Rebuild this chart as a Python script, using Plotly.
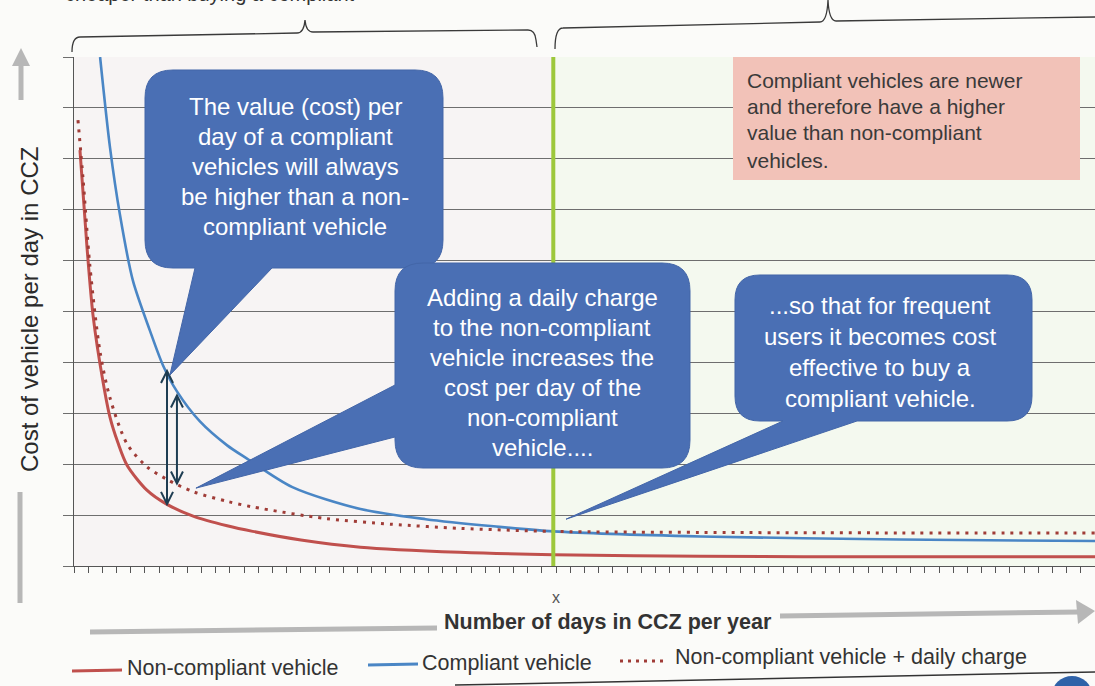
import plotly.graph_objects as go

# ---------------- data ----------------
days_noncompliant = [2.1, 4.6, 6.7, 10.2, 12.7, 15.5, 18.7, 25.7, 32.8, 42, 54, 63, 80, 101, 136, 169, 221, 291, 360]
cost_noncompliant = [8.17, 6.25, 4.93, 3.63, 2.92, 2.42, 1.98, 1.49, 1.21, 0.98, 0.79, 0.68, 0.51, 0.37, 0.27, 0.22, 0.19, 0.18, 0.18]

days_compliant = [9.2, 12.7, 16.2, 20.8, 26.8, 31.4, 36.3, 44.4, 54, 61, 77, 101, 124, 148, 169, 221, 291, 360]
cost_compliant = [10.0, 8.22, 6.90, 5.60, 4.62, 3.94, 3.43, 2.84, 2.37, 2.11, 1.55, 1.12, 0.92, 0.78, 0.68, 0.58, 0.52, 0.49]

days_charge = [1.4, 3.2, 5.6, 9.2, 12.7, 18.7, 25.7, 32.8, 42, 54, 63, 89, 112, 136, 169, 221, 291, 360]
cost_charge = [8.76, 7.60, 5.90, 4.20, 3.30, 2.40, 1.95, 1.70, 1.46, 1.27, 1.16, 0.93, 0.82, 0.74, 0.68, 0.66, 0.65, 0.65]

series_names = ["Non-compliant vehicle", "Compliant vehicle", "Non-compliant vehicle + daily charge"]

crossover_day = 169          # "x" marker (green line)
x_range = [0, 360]
y_range = [0, 10]

arrow_days = [32.8, 36.3]
arrow_top = [3.83, 3.35]
arrow_bottom = [1.22, 1.62]

callout_tip_days = [33.8, 43.0, 173.5]
callout_tip_costs = [3.75, 1.53, 0.92]

callout_texts = [
    ["The value (cost) per", "day of a compliant", "vehicles will always", "be higher than a non-", "compliant vehicle"],
    ["Adding a daily charge", "to the non-compliant", "vehicle increases the", "cost per day of the", "non-compliant", "vehicle...."],
    ["...so that for frequent", "users it becomes cost", "effective to buy a", "compliant vehicle."],
]
note_text = ["Compliant vehicles are newer", "and therefore have a higher",
             "value than non-compliant", "vehicles."]
x_title = "Number of days in CCZ per year"
y_title = "Cost of vehicle per day in CCZ"
top_text = "cheaper than buying a compliant"

# ---------------- geometry helpers ----------------
W, H = 1095, 686
L, R, T, B = 74, 1095, 57, 566

def xp(d):  # data -> pixel
    return L + (d - x_range[0]) / (x_range[1] - x_range[0]) * (R - L)

def yp(c):
    return B - (c - y_range[0]) / (y_range[1] - y_range[0]) * (B - T)

def px(x):  # pixel -> paper
    return (x - L) / (R - L)

def py(y):
    return (B - y) / (B - T)

def P(x, y):
    return f"{px(x):.5f},{py(y):.5f}"

def bubble(x0, y0, x1, y1, r, side, ba, bb, tip):
    s = [f"M {P(x0 + r, y0)}", f"L {P(x1 - r, y0)}", f"Q {P(x1, y0)} {P(x1, y0 + r)}",
         f"L {P(x1, y1 - r)}", f"Q {P(x1, y1)} {P(x1 - r, y1)}"]
    if side == "bottom":
        s += [f"L {P(bb, y1)}", f"L {P(*tip)}", f"L {P(ba, y1)}"]
    s += [f"L {P(x0 + r, y1)}", f"Q {P(x0, y1)} {P(x0, y1 - r)}"]
    if side == "left":
        s += [f"L {P(x0, bb)}", f"L {P(*tip)}", f"L {P(x0, ba)}"]
    s += [f"L {P(x0, y0 + r)}", f"Q {P(x0, y0)} {P(x0 + r, y0)}", "Z"]
    return " ".join(s)

RED = "#c0504d"
BLUE = "#4a86c5"
DOT = "#a03c37"
CALLOUT = "#4a6fb4"
FONT = "Liberation Sans, Arial, sans-serif"

fig = go.Figure()
fig.add_trace(go.Scatter(x=days_noncompliant, y=cost_noncompliant, mode="lines", name=series_names[0],
                         line=dict(color=RED, width=3, shape="spline", smoothing=0.8)))
fig.add_trace(go.Scatter(x=days_compliant, y=cost_compliant, mode="lines", name=series_names[1],
                         line=dict(color=BLUE, width=2.6, shape="spline", smoothing=0.8)))
fig.add_trace(go.Scatter(x=days_charge, y=cost_charge, mode="lines", name=series_names[2],
                         line=dict(color=DOT, width=3, dash="3px,6px", shape="spline", smoothing=0.8)))

shapes = []
# background regions
shapes.append(dict(type="rect", xref="x", yref="y", x0=x_range[0], x1=crossover_day, y0=y_range[0], y1=y_range[1],
                   fillcolor="#f7f4f4", line_width=0, layer="below"))
shapes.append(dict(type="rect", xref="x", yref="y", x0=crossover_day, x1=x_range[1], y0=y_range[0], y1=y_range[1],
                   fillcolor="#f4f9ef", line_width=0, layer="below"))
# green line
shapes.append(dict(type="line", xref="x", yref="y", x0=crossover_day, x1=crossover_day, y0=y_range[0], y1=y_range[1],
                   line=dict(color="#9dc83b", width=4), layer="above"))

# double arrows
ARW = "#1e3d52"
for d, t, b in zip(arrow_days, arrow_top, arrow_bottom):
    x, y1, y2 = xp(d), yp(t), yp(b)
    shapes.append(dict(type="path", xref="paper", yref="paper", path=f"M {P(x, y1)} L {P(x, y2)}",
                       line=dict(color=ARW, width=2), layer="above"))
    shapes.append(dict(type="path", xref="paper", yref="paper",
                       path=f"M {P(x - 6, y1 + 12)} L {P(x, y1)} L {P(x + 6, y1 + 12)}",
                       line=dict(color=ARW, width=2), fillcolor="rgba(0,0,0,0)", layer="above"))
    shapes.append(dict(type="path", xref="paper", yref="paper",
                       path=f"M {P(x - 6, y2 - 12)} L {P(x, y2)} L {P(x + 6, y2 - 12)}",
                       line=dict(color=ARW, width=2), fillcolor="rgba(0,0,0,0)", layer="above"))

# callouts
tips = [(xp(d), yp(c)) for d, c in zip(callout_tip_days, callout_tip_costs)]
boxes = [
    (145, 70, 443, 268, 28, "bottom", 195, 272),
    (395, 263, 690, 468, 28, "left", 385, 437),
    (735, 275, 1032, 421, 25, "bottom", 783, 857),
]
for (x0, y0, x1, y1, r, side, ba, bb), tip in zip(boxes, tips):
    shapes.append(dict(type="path", xref="paper", yref="paper", path=bubble(x0, y0, x1, y1, r, side, ba, bb, tip),
                       fillcolor=CALLOUT, line=dict(color="#4366a8", width=1), layer="above"))

# pink note box
shapes.append(dict(type="rect", xref="paper", yref="paper", x0=px(733), x1=px(1080), y0=py(180), y1=py(57),
                   fillcolor="#f2c2b8", line_width=0, layer="above"))

# braces at top
BR = "#3a3a3a"
shapes.append(dict(type="path", xref="paper", yref="paper",
                   path=f"M {P(72, 52)} Q {P(72, 37)} {P(80, 37)} L {P(297, 33)} Q {P(304, 33)} {P(305, 20)} "
                        f"Q {P(306, 32)} {P(313, 32)} L {P(528, 30)} Q {P(535, 30)} {P(536, 40)} L {P(537, 47)}",
                   line=dict(color=BR, width=1.3), fillcolor="rgba(0,0,0,0)"))
shapes.append(dict(type="path", xref="paper", yref="paper",
                   path=f"M {P(555, 49)} Q {P(555, 28)} {P(563, 28)} L {P(820, 22)} Q {P(827, 22)} {P(828, 0)} "
                        f"Q {P(829, 21)} {P(836, 21)} L {P(1095, 17)}",
                   line=dict(color=BR, width=1.3), fillcolor="rgba(0,0,0,0)"))

# y-axis gray arrow and bar
GR = "#b7b7b7"
shapes.append(dict(type="line", xref="paper", yref="paper", x0=px(21), x1=px(21), y0=py(100), y1=py(62),
                   line=dict(color=GR, width=5)))
shapes.append(dict(type="path", xref="paper", yref="paper", path=f"M {P(12, 66)} L {P(21, 48)} L {P(30, 66)} Z",
                   fillcolor=GR, line_width=0))
shapes.append(dict(type="line", xref="paper", yref="paper", x0=px(20), x1=px(20), y0=py(492), y1=py(603),
                   line=dict(color=GR, width=5)))
# x-axis gray bars and arrow
shapes.append(dict(type="line", xref="paper", yref="paper", x0=px(90), x1=px(437), y0=py(632), y1=py(628),
                   line=dict(color=GR, width=5)))
shapes.append(dict(type="line", xref="paper", yref="paper", x0=px(780), x1=px(1080), y0=py(616), y1=py(612),
                   line=dict(color=GR, width=5)))
shapes.append(dict(type="path", xref="paper", yref="paper", path=f"M {P(1076, 600)} L {P(1095, 611)} L {P(1078, 624)} Z",
                   fillcolor=GR, line_width=0))

# legend samples
shapes.append(dict(type="line", xref="paper", yref="paper", x0=px(72), x1=px(122), y0=py(671), y1=py(670),
                   line=dict(color=RED, width=3)))
shapes.append(dict(type="line", xref="paper", yref="paper", x0=px(368), x1=px(418), y0=py(665), y1=py(664),
                   line=dict(color=BLUE, width=3)))
shapes.append(dict(type="line", xref="paper", yref="paper", x0=px(620), x1=px(665), y0=py(661), y1=py(661),
                   line=dict(color=DOT, width=3, dash="3px,5px")))
# line under legend and blue circle
shapes.append(dict(type="line", xref="paper", yref="paper", x0=px(455), x1=px(1095), y0=py(685), y1=py(672),
                   line=dict(color="#333", width=1.5)))
shapes.append(dict(type="circle", xref="paper", yref="paper", x0=px(1052), x1=px(1092), y0=py(714), y1=py(676),
                   fillcolor="#2f62a8", line_width=0))

annotations = []
def txt(x, y, s, size, color, xanchor="center", bold=False, angle=0):
    annotations.append(dict(xref="paper", yref="paper", x=px(x), y=py(y), text=(f"<b>{s}</b>" if bold else s),
                            showarrow=False, xanchor=xanchor, yanchor="middle", textangle=angle,
                            font=dict(size=size, color=color, family=FONT)))

centers = [(295, [106, 136, 166, 196, 226]),
           (542, [297, 327, 357, 387, 417, 447]),
           (880, [305, 336, 367, 398])]
for (cx, ys), lines in zip(centers, callout_texts):
    for y, s in zip(ys, lines):
        txt(cx, y, s, 24, "white")
for y, s in zip([80, 106, 133, 160], note_text):
    txt(745, y, s, 21, "#3a3a3a", xanchor="left")

txt(xp(crossover_day) + 3, 597, "x", 16, "#555")
txt(608, 622, x_title, 21.5, "#333", bold=True)
txt(29, 310, y_title, 24, "#2a2a2a", angle=-90)
txt(63, -6, top_text, 20, "#333", xanchor="left")

txt(125, 668, series_names[0], 21.5, "#333", xanchor="left")
txt(420, 663, series_names[1], 21.5, "#333", xanchor="left")
txt(673, 657, series_names[2], 21.5, "#333", xanchor="left")

fig.update_layout(
    width=W, height=H, autosize=False,
    margin=dict(l=L, r=W - R, t=T, b=H - B),
    paper_bgcolor="#fbfbf9", plot_bgcolor="rgba(0,0,0,0)",
    showlegend=False, shapes=shapes, annotations=annotations,
    xaxis=dict(range=x_range, showgrid=False, zeroline=False, showline=True, linecolor="#555", linewidth=1.2,
               ticks="outside", ticklen=6, tickwidth=1, tickcolor="#555", dtick=5, tick0=0, showticklabels=False),
    yaxis=dict(range=y_range, showgrid=True, gridcolor="#6e6e6e", gridwidth=1, zeroline=False, showline=True,
               linecolor="#555", linewidth=1.2, ticks="outside", ticklen=10, tickcolor="#6e6e6e", dtick=1,
               showticklabels=False),
)

fig.write_html("out.html", config={"displayModeBar": False},
               post_script="document.body.style.margin='0px';document.body.style.overflow='hidden';")
